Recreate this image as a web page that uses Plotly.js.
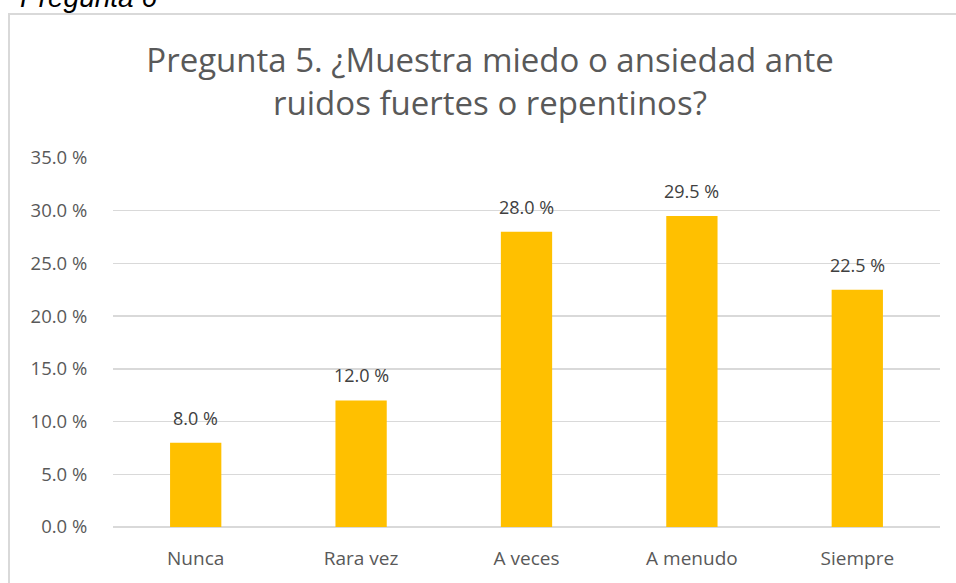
<!DOCTYPE html>
<html>
<head>
<meta charset="utf-8">
<script src="https://cdn.plot.ly/plotly-3.0.1.min.js"></script>
<style>
html,body{margin:0;padding:0;background:#fff;}
#chart{width:956px;height:583px;}
</style>
</head>
<body>
<div id="chart"></div>
<script>
const categories = ["Nunca", "Rara vez", "A veces", "A menudo", "Siempre"];
const values = [8.0, 12.0, 28.0, 29.5, 22.5];
const tickVals = [0, 5, 10, 15, 20, 25, 30, 35];
const tickText = ["0.0 %", "5.0 %", "10.0 %", "15.0 %", "20.0 %", "25.0 %", "30.0 %", "35.0 %"];
const labels = values.map(v => v.toFixed(1) + " %");

const L = 113, R = 16, T = 158, B = 56, W = 956, H = 583;
const pw = W - L - R, ph = H - T - B;
const px = x => (x - L) / pw;
const py = y => (H - B - y) / ph;

const trace = {
  type: "bar",
  x: categories,
  y: values,
  marker: {color: "#FFC000"},
  hoverinfo: "skip"
};

const dataLabels = categories.map((c, i) => ({
  x: c, y: values[i], xref: "x", yref: "y",
  text: labels[i], showarrow: false,
  xanchor: "center", yanchor: "bottom", yshift: 11,
  font: {family: "Open Sans, DejaVu Sans, sans-serif", size: 18, color: "#404040"}
}));

const layout = {
  width: W, height: H,
  margin: {l: L, r: R, t: T, b: B},
  paper_bgcolor: "#ffffff",
  plot_bgcolor: "#ffffff",
  bargap: 0.69,
  showlegend: false,
  title: {
    text: "Pregunta 5. ¿Muestra miedo o ansiedad ante<br>ruidos fuertes o repentinos?",
    font: {family: "Open Sans, Noto Sans, sans-serif", size: 33, color: "#595959"},
    x: 490 / W, xanchor: "center",
    y: 1 - 72 / H, yanchor: "middle"
  },
  xaxis: {
    type: "category",
    showgrid: false,
    showline: false,
    zeroline: false,
    ticks: "outside", ticklen: 14, tickcolor: "rgba(0,0,0,0)",
    tickfont: {family: "Open Sans, sans-serif", size: 19, color: "#595959"}
  },
  yaxis: {
    range: [0, 35],
    tickvals: tickVals,
    ticktext: tickText,
    showgrid: true, gridcolor: "#d9d9d9", gridwidth: 1.5,
    zeroline: true, zerolinecolor: "#d9d9d9", zerolinewidth: 2,
    showline: false,
    ticks: "outside", ticklen: 21, tickcolor: "rgba(0,0,0,0)",
    tickfont: {family: "Open Sans, sans-serif", size: 18.5, color: "#595959"}
  },
  shapes: [{
    type: "rect", xref: "paper", yref: "paper", layer: "below",
    x0: px(9), x1: px(1000), y0: py(640), y1: py(14),
    line: {color: "#d9d9d9", width: 2}, fillcolor: "rgba(0,0,0,0)"
  }],
  annotations: [{
    xref: "paper", yref: "paper",
    x: px(18), y: py(15), xanchor: "left", yanchor: "bottom",
    text: "<i>Pregunta 6</i>", showarrow: false,
    font: {family: "Liberation Sans, Arial, sans-serif", size: 28, color: "#000000"}
  }].concat(dataLabels)
};

Plotly.newPlot("chart", [trace], layout, {staticPlot: true, displayModeBar: false});
</script>
</body>
</html>
